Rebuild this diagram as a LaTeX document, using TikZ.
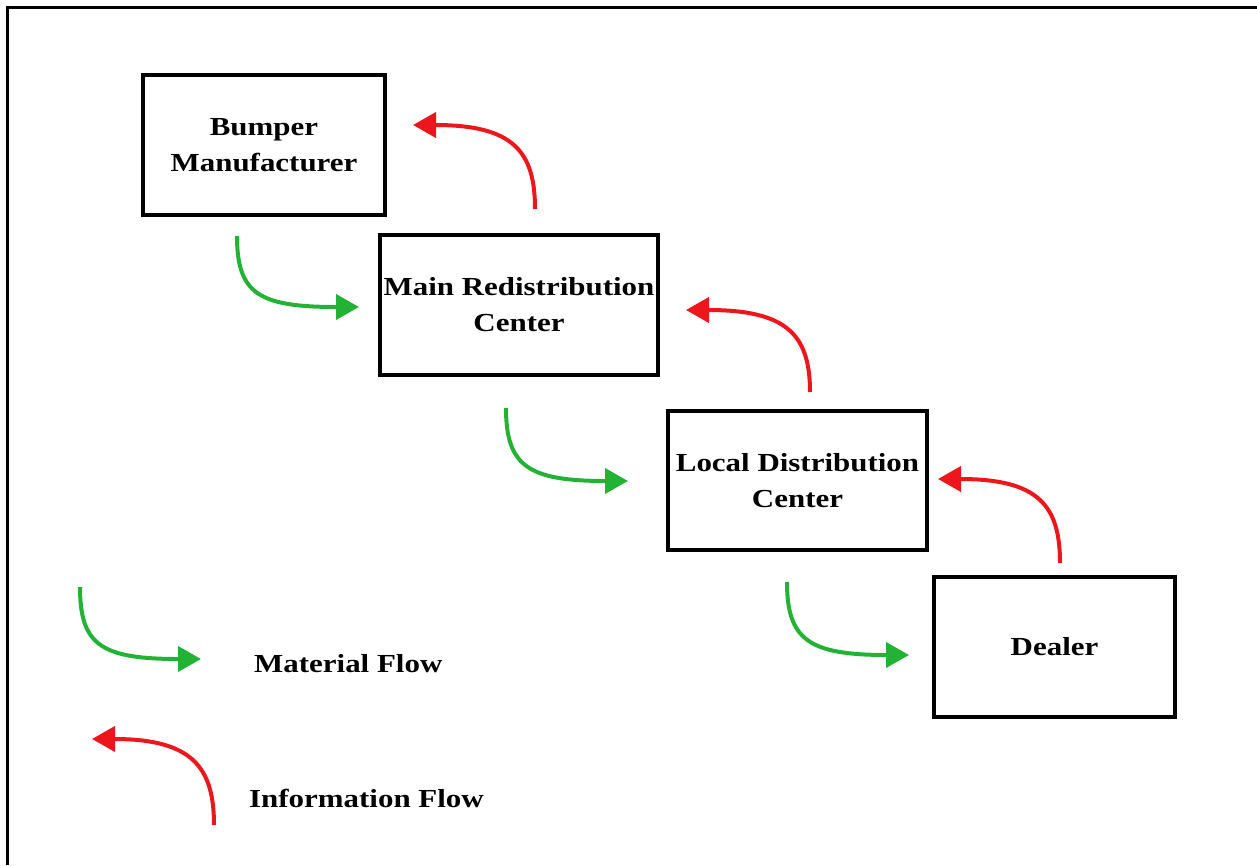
\documentclass[tikz,border=0pt]{standalone}
\usepackage{fontspec}
\setmainfont{Liberation Serif}
\newfontfamily\lblfont{Liberation Serif}[FakeStretch=1.19]
\usetikzlibrary{arrows.meta}
\definecolor{matgreen}{RGB}{34,178,52}
\definecolor{infred}{RGB}{236,22,28}
\begin{document}
\begin{tikzpicture}[x=1pt,y=-1pt,
  stage/.style={draw=black,line width=3.2pt,align=center,inner sep=0pt,
    font=\lblfont\bfseries\fontsize{26}{36}\selectfont},
  legendtext/.style={anchor=west,inner sep=0pt,
    font=\lblfont\bfseries\fontsize{26}{36}\selectfont},
  flowarrow/.style={line width=4pt,-{Triangle[length=23pt,width=25pt]}},
  material/.style={flowarrow,draw=matgreen},
  information/.style={flowarrow,draw=infred}]
\useasboundingbox (0,0) rectangle (1257,865);
% open frame: top and left edges
\draw[line width=3pt] (7,865) -- (7,7) -- (1257,7);

% supply chain stages
\node[stage,minimum width=242pt,minimum height=140pt] (bm) at (264,145) {Bumper\\Manufacturer};
\node[stage,minimum width=278pt,minimum height=140pt] (mrc) at (519,305) {Main Redistribution\\Center};
\node[stage,minimum width=259pt,minimum height=139pt] (ldc) at (797.5,480.5) {Local Distribution\\Center};
\node[stage,minimum width=241pt,minimum height=140pt] (dlr) at (1054.5,647) {Dealer};

% arrow end points
\coordinate (m1s) at (237,236);  \coordinate (m1e) at (359,307);
\coordinate (m2s) at (506,408);  \coordinate (m2e) at (628,481);
\coordinate (m3s) at (787,582);  \coordinate (m3e) at (909,655);
\coordinate (mls) at (80,587);   \coordinate (mle) at (201,659);
\coordinate (i1s) at (535,209);  \coordinate (i1e) at (413,125);
\coordinate (i2s) at (810,392);  \coordinate (i2e) at (686,310);
\coordinate (i3s) at (1060,563); \coordinate (i3e) at (938,479);
\coordinate (ils) at (214,825);  \coordinate (ile) at (92,739);

% material flow (downstream)
\foreach \a/\b in {m1s/m1e,m2s/m2e,m3s/m3e,mls/mle}
  \draw[material] (\a) .. controls +(0,58) and +(-100,0) .. (\b);
% information flow (upstream)
\foreach \a/\b in {i1s/i1e,i2s/i2e,i3s/i3e,ils/ile}
  \draw[information] (\a) .. controls +(0,-58) and +(100,0) .. (\b);

% legend
\node[legendtext] (lmat) at (254,664) {Material Flow};
\node[legendtext] (linf) at (249,798) {Information Flow};
\end{tikzpicture}
\end{document}
